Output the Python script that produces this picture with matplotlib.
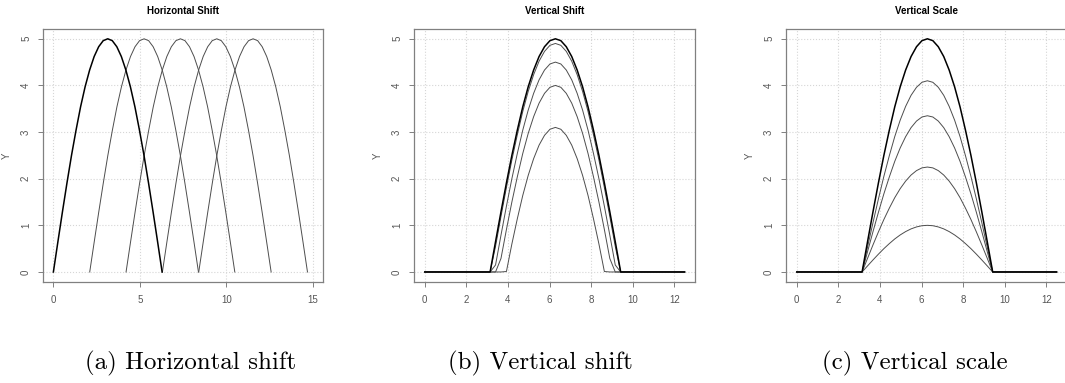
import numpy as np
import matplotlib
matplotlib.use("Agg")
import matplotlib.pyplot as plt

# %% Datos
# one arch (half period) read off the plots, sampled every 2*pi/24
arch_x = np.linspace(0, 2 * np.pi, 25)
arch_y = [0.00, 0.65, 1.29, 1.91, 2.50, 3.04, 3.54, 3.97, 4.33, 4.62, 4.83, 4.96, 5.00,
          4.96, 4.83, 4.62, 4.33, 3.97, 3.54, 3.04, 2.50, 1.91, 1.29, 0.65, 0.00]
arch_y = np.array(arch_y)

h_shifts = [0.0, 2.1, 4.2, 6.3, 8.4]        # horizontal shift
v_offsets = [0.0, 0.1, 0.5, 1.0, 1.9]       # vertical shift (clipped at 0)
v_peaks = [5.0, 4.1, 3.35, 2.25, 1.0]       # vertical scale

arch_start = np.pi
x_end = 12.5

titles = ["Horizontal Shift", "Vertical Shift", "Vertical Scale"]
captions = ["(a) Horizontal shift", "(b) Vertical shift", "(c) Vertical scale"]
xticks = [[0, 5, 10, 15], [0, 2, 4, 6, 8, 10, 12], [0, 2, 4, 6, 8, 10, 12]]
xlims = [(-0.6, 15.58), (-0.52, 13.0), (-0.52, 13.0)]

# %% Figura
plt.rcParams['font.family'] = ['Liberation Sans', 'DejaVu Sans']
W, H = 1065, 383
fig = plt.figure(figsize=(W / 100, H / 100), dpi=100, facecolor='white')

boxes = [(43, 280), (414, 281), (786, 281)]
top, bottom = 29, 282

base_col, base_lw = '#000000', 1.1
other_col, other_lw = '#4d4d4d', 0.7
frame_col = '#808080'

axes = []
for (left, width) in boxes:
    ax = fig.add_axes([left / W, 1 - bottom / H, width / W, (bottom - top) / H])
    axes.append(ax)


def full_curve(y):
    xs = np.concatenate([[0.0], arch_start + arch_x, [x_end]])
    ys = np.concatenate([[0.0], y, [0.0]])
    return xs, ys


# panel a
ax = axes[0]
for s in h_shifts[1:]:
    ax.plot(s + arch_x, arch_y, color=other_col, lw=other_lw)
ax.plot(h_shifts[0] + arch_x, arch_y, color=base_col, lw=base_lw)

# panel b
ax = axes[1]
for c in v_offsets[1:]:
    xs, ys = full_curve(np.maximum(arch_y - c, 0))
    ax.plot(xs, ys, color=other_col, lw=other_lw)
xs, ys = full_curve(np.maximum(arch_y - v_offsets[0], 0))
ax.plot(xs, ys, color=base_col, lw=base_lw)

# panel c
ax = axes[2]
for p in v_peaks[1:]:
    xs, ys = full_curve(arch_y * p / arch_y.max())
    ax.plot(xs, ys, color=other_col, lw=other_lw)
xs, ys = full_curve(arch_y * v_peaks[0] / arch_y.max())
ax.plot(xs, ys, color=base_col, lw=base_lw)

for i, ax in enumerate(axes):
    ax.set_xlim(*xlims[i])
    ax.set_ylim(-0.215, 5.21)
    ax.set_xticks(xticks[i])
    ax.set_yticks([0, 1, 2, 3, 4, 5])
    ax.grid(True, linestyle=':', color='#d6d6d6', lw=0.8)
    ax.set_axisbelow(True)
    for sp in ax.spines.values():
        sp.set_color(frame_col)
        sp.set_linewidth(0.9)
    ax.tick_params(length=3.6, width=0.7, color=frame_col, labelcolor='#555555',
                   labelsize=7, pad=6)
    ax.tick_params(axis='y', labelrotation=90, pad=5)
    for lab in ax.get_yticklabels():
        lab.set_va('center')
    ax.set_ylabel("Y", fontsize=7, color='#555555')
    ax.yaxis.set_label_coords(-31 / boxes[i][1], 0.5)
    ax.text(0.5, 1 + 18.5 / (bottom - top), titles[i], transform=ax.transAxes,
            ha='center', va='center', fontsize=7, fontweight='bold')

cap_x = [191, 540, 915]
for cx, cap in zip(cap_x, captions):
    fig.text(cx / W, 1 - 369 / H, cap, ha='center', va='baseline',
             fontsize=18, family=['cmr10', 'DejaVu Serif'])

fig.savefig("out.png", dpi=100, facecolor='white')
